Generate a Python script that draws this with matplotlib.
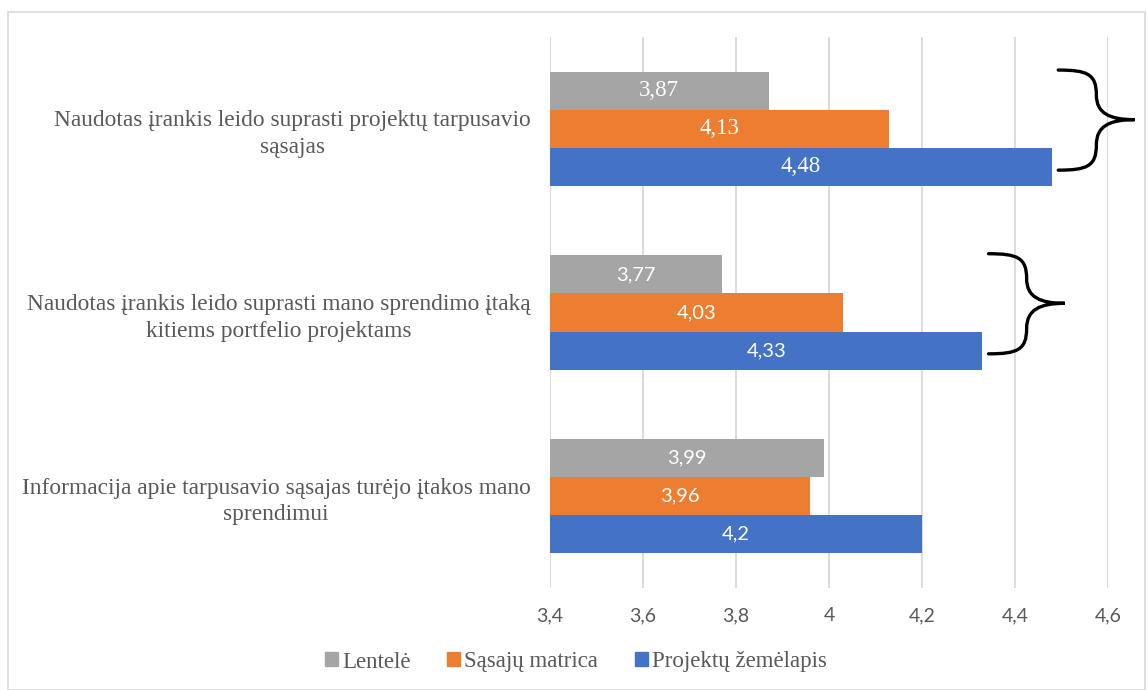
import matplotlib
matplotlib.use("Agg")
import matplotlib.pyplot as plt
import matplotlib.patches as mpatches
from matplotlib.path import Path
import numpy as np

# Survey statements (top to bottom as shown)
CATEGORIES = [
    "Naudotas įrankis leido suprasti projektų tarpusavio\nsąsajas",
    "Naudotas įrankis leido suprasti mano sprendimo įtaką\nkitiems portfelio projektams",
    "Informacija apie tarpusavio sąsajas turėjo įtakos mano\nsprendimui",
]
SERIES = ["Lentelė", "Sąsajų matrica", "Projektų žemėlapis"]
LENTELE = [3.87, 3.77, 3.99]
MATRICA = [4.13, 4.03, 3.96]
ZEMELAPIS = [4.48, 4.33, 4.20]
VALUE_LABELS = [
    ["3,87", "3,77", "3,99"],
    ["4,13", "4,03", "3,96"],
    ["4,48", "4,33", "4,2"],
]
XTICKS = [3.4, 3.6, 3.8, 4.0, 4.2, 4.4, 4.6]
XTICK_LABELS = ["3,4", "3,6", "3,8", "4", "4,2", "4,4", "4,6"]
BRACED = [0, 1]  # statements marked with a brace

COLORS = ["#A5A5A5", "#ED7D31", "#4472C4"]
SERIF = "Liberation Serif"
SANS = "Lato"
TEXT_GRAY = "#595959"

fig = plt.figure(figsize=(11.48, 6.9), dpi=100)
fig.patch.set_facecolor("white")
ax = fig.add_axes([550 / 1148, 1 - 588 / 690, 558 / 1148, 551 / 690])

# outer chart frame
fig.add_artist(mpatches.Rectangle((8 / 1148, 0), 1137 / 1148, 678 / 690,
                                  transform=fig.transFigure, fill=False,
                                  edgecolor="#D9D9D9", lw=1.2))

n = len(CATEGORIES)
ypos = np.arange(n)[::-1]  # first statement on top
h = 0.207
offsets = [h, 0, -h]
values = [LENTELE, MATRICA, ZEMELAPIS]

for s, (vals, off, col) in enumerate(zip(values, offsets, COLORS)):
    ax.barh(ypos + off, np.array(vals) - 3.4, left=3.4, height=h,
            color=col, label=SERIES[s], zorder=2)
    for i, v in enumerate(vals):
        if i == 0:
            fam, fs = SERIF, 16.5
        else:
            fam, fs = SANS, 14.5
        ax.text((3.4 + v) / 2, ypos[i] + off, VALUE_LABELS[s][i],
                ha="center", va="center", color="white", fontsize=fs,
                family=fam, zorder=3)


def brace(ax, x0, yt, yb, ym, w):
    """Curly brace opening to the left, tip pointing right."""
    xm = x0 + w / 2
    xt = x0 + w
    y1 = (yt + ym) / 2
    y2 = (yb + ym) / 2
    verts = [(x0, yt),
             (x0 + 0.75 * (xm - x0), yt), (xm, yt - 0.15 * (yt - y1)), (xm, y1),
             (xm, y1 - 0.75 * (y1 - ym)), (xm + 0.35 * (xt - xm), ym), (xt, ym),
             (xm + 0.35 * (xt - xm), ym), (xm, y2 + 0.75 * (ym - y2)), (xm, y2),
             (xm, yb + 0.15 * (y2 - yb)), (x0 + 0.75 * (xm - x0), yb), (x0, yb)]
    codes = [Path.MOVETO] + [Path.CURVE4] * 12
    ax.add_patch(mpatches.PathPatch(Path(verts, codes), fill=False,
                                    lw=2.4, edgecolor="black",
                                    clip_on=False, zorder=4,
                                    capstyle="round"))


for i in BRACED:
    y = ypos[i]
    brace(ax, ZEMELAPIS[i] + 0.013, y + 0.32, y - 0.225, y + 0.05, 0.164)

ax.set_xlim(3.4, 4.6)
ax.set_ylim(-0.5, n - 0.5)
ax.set_xticks(XTICKS)
ax.set_xticklabels(XTICK_LABELS, family=SANS, fontsize=14, color=TEXT_GRAY)
ax.set_yticks(ypos)
ax.set_yticklabels(CATEGORIES, family=SERIF, fontsize=16.8, color=TEXT_GRAY,
                   multialignment="center", linespacing=1.35)
ax.tick_params(axis="both", length=0)
ax.tick_params(axis="x", pad=14)
ax.tick_params(axis="y", pad=14)
ax.grid(axis="x", color="#D9D9D9", lw=1.3, zorder=0)
for sp in ax.spines.values():
    sp.set_visible(False)

handles = [mpatches.Patch(color=c, label=l) for c, l in zip(COLORS, SERIES)]
fig.legend(handles=handles, loc="center", bbox_to_anchor=(576 / 1148, 1 - 662 / 690),
           ncol=3, frameon=False, prop={"family": SERIF, "size": 16.5},
           labelcolor=TEXT_GRAY, handlelength=0.55, handleheight=0.55,
           handletextpad=0.2, columnspacing=1.6)

fig.savefig("out.png", dpi=100, facecolor="white")
